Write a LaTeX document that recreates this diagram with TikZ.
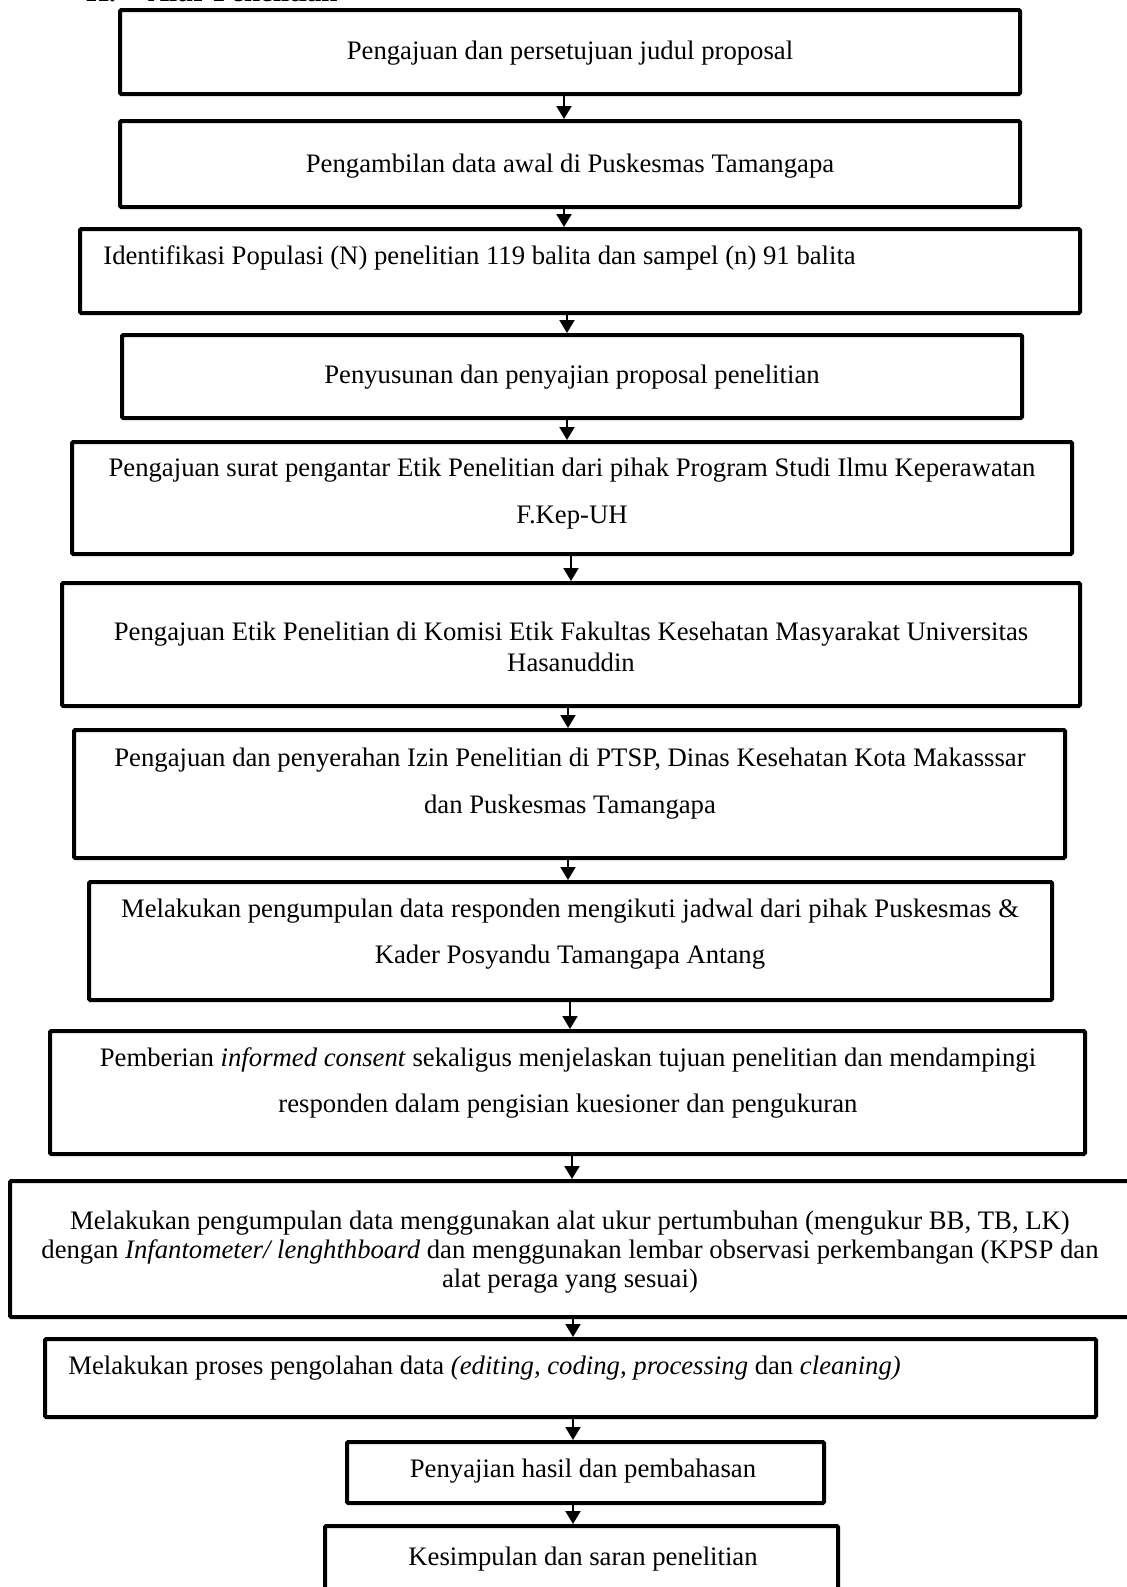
\documentclass[tikz,border=0pt]{standalone}
\usepackage{fontspec}
\setmainfont{Liberation Serif}
\usetikzlibrary{arrows.meta,positioning}

\begin{document}
\begin{tikzpicture}[
  x=0.5pt, y=-0.5pt,
  box/.style={draw, line width=2pt, rounded corners=0.6pt, inner sep=0pt},
  txt/.style={font=\fontsize{13.35}{15.5}\selectfont, align=center, inner sep=0pt},
  arr/.style={line width=1pt, -{Triangle[length=6.5pt,width=7.5pt]}}
]
\useasboundingbox (0,0) rectangle (1126,1587);

% heading, cut off by the page top
\node[font=\fontsize{14.5}{16}\selectfont\bfseries, anchor=base west, inner sep=0pt] (head) at (86,1.5) {H.\hspace{16pt}Alur Penelitian};

% boxes
\node[box, minimum width=450pt, minimum height=42pt] (b1) at (570,52) {};
\node[box, minimum width=450pt, minimum height=43pt] (b2) at (570,164) {};
\node[box, minimum width=500pt, minimum height=42pt] (b3) at (580,271) {};
\node[box, minimum width=450pt, minimum height=41.5pt] (b4) at (572,376.5) {};
\node[box, minimum width=500pt, minimum height=56pt] (b5) at (572,498) {};
\node[box, minimum width=509pt, minimum height=61.5pt] (b6) at (571,644.5) {};
\node[box, minimum width=495.5pt, minimum height=64pt] (b7) at (569.5,794) {};
\node[box, minimum width=481.5pt, minimum height=59pt] (b8) at (570.5,941) {};
\node[box, minimum width=517.5pt, minimum height=61.5pt] (b9) at (567.5,1092.5) {};
\node[box, minimum width=560pt, minimum height=68pt] (b10) at (570,1249) {};
\node[box, minimum width=525.5pt, minimum height=39pt] (b11) at (570.5,1378) {};
\node[box, minimum width=238.5pt, minimum height=30.5pt] (b12) at (585.5,1472.5) {};
\node[box, minimum width=256.5pt, minimum height=37pt] (b13) at (581.5,1563) {};

% texts
\node[txt] (t1) at (570,53) {Pengajuan dan persetujuan judul proposal};
\node[txt] (t2) at (570,166) {Pengambilan data awal di Puskesmas Tamangapa};
\node[txt, anchor=west] (t3) at (103,258) {Identifikasi Populasi (N) penelitian 119 balita dan sampel (n) 91 balita};
\node[txt] (t4) at (572,377) {Penyusunan dan penyajian proposal penelitian};
\node[txt, font=\fontsize{13.35}{23.5}\selectfont] (t5) at (572,493.5) {Pengajuan surat pengantar Etik Penelitian dari pihak Program Studi Ilmu Keperawatan\\F.Kep-UH};
\node[txt] (t6) at (571,647) {Pengajuan Etik Penelitian di Komisi Etik Fakultas Kesehatan Masyarakat Universitas\\Hasanuddin};
\node[txt, font=\fontsize{13.35}{23.5}\selectfont] (t7) at (570,784) {Pengajuan dan penyerahan Izin Penelitian di PTSP, Dinas Kesehatan Kota Makasssar\\dan Puskesmas Tamangapa};
\node[txt, font=\fontsize{13.35}{23}\selectfont] (t8) at (570,934) {Melakukan pengumpulan data responden mengikuti jadwal dari pihak Puskesmas \&\\Kader Posyandu Tamangapa Antang};
\node[txt, font=\fontsize{13.35}{23}\selectfont] (t9) at (568,1083) {Pemberian \textit{informed consent} sekaligus menjelaskan tujuan penelitian dan mendampingi\\responden dalam pengisian kuesioner dan pengukuran};
\node[txt, font=\fontsize{13.35}{14.5}\selectfont] (t10) at (570,1252) {Melakukan pengumpulan data menggunakan alat ukur pertumbuhan (mengukur BB, TB, LK)\\dengan \textit{Infantometer/ lenghthboard} dan menggunakan lembar observasi perkembangan (KPSP dan\\alat peraga yang sesuai)};
\node[txt, anchor=west] (t11) at (68,1368) {Melakukan proses pengolahan data \textit{(editing, coding, processing} dan \textit{cleaning)}};
\node[txt] (t12) at (583,1471) {Penyajian hasil dan pembahasan};
\node[txt] (t13) at (583,1559) {Kesimpulan dan saran penelitian};

% arrows
\foreach \i/\j/\ax in {1/2/564, 2/3/564, 3/4/567, 4/5/567, 5/6/571, 6/7/568,
                       7/8/568, 8/9/570, 9/10/572, 10/11/573, 11/12/573, 12/13/573}
  \draw[arr] (b\i.south -| \ax,0) -- (b\j.north -| \ax,0);
\end{tikzpicture}
\end{document}
